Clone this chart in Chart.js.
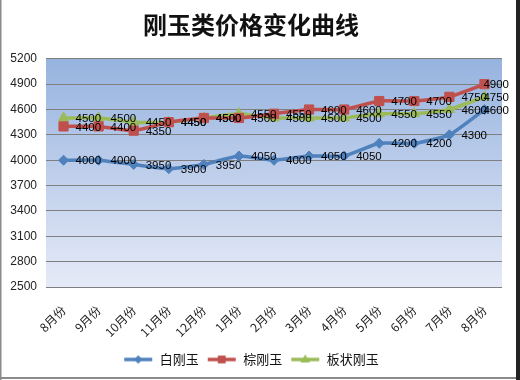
<!DOCTYPE html>
<html><head><meta charset="utf-8">
<script src="https://cdn.jsdelivr.net/npm/chart.js@4/dist/chart.umd.min.js"></script>
<style>html,body{margin:0;padding:0;background:#fff}#wrap{width:520px;height:380px;position:relative}</style>
</head><body><div id="wrap"><canvas id="c" width="520" height="380"></canvas></div>
<script>
const titleText = '刚玉类价格变化曲线';
const categories = ['8月份','9月份','10月份','11月份','12月份','1月份','2月份','3月份','4月份','5月份','6月份','7月份','8月份'];
const seriesNames = ['白刚玉','棕刚玉','板状刚玉'];
const whiteCorundum = [4000,4000,3950,3900,3950,4050,4000,4050,4050,4200,4200,4300,4600];
const brownCorundum = [4400,4400,4350,4450,4500,4500,4550,4600,4600,4700,4700,4750,4900];
const tabularCorundum = [4500,4500,4450,4450,4500,4550,4500,4500,4500,4550,4550,4600,4750];
const yMin = 2500, yMax = 5200, yStep = 300;

const colors = ['#4f81bd','#c0504d','#9bbb59'];
const styles = ['rectRot','rect','triangle'];
const radii = [5,6.5,6];

function drawMarker(ctx, style, x, y, r){
  ctx.beginPath();
  if(style==='rectRot'){ctx.moveTo(x,y-r);ctx.lineTo(x+r,y);ctx.lineTo(x,y+r);ctx.lineTo(x-r,y);}
  else if(style==='rect'){const s=r*Math.SQRT1_2;ctx.rect(x-s,y-s,2*s,2*s);}
  else {ctx.moveTo(x,y-r);ctx.lineTo(x+r*0.95,y+r*0.6);ctx.lineTo(x-r*0.95,y+r*0.6);}
  ctx.closePath();ctx.fill();
}
function legendIcon(i){
  const cv=document.createElement('canvas');cv.width=30;cv.height=12;
  const c=cv.getContext('2d');
  c.strokeStyle=colors[i];c.lineWidth=3.5;c.beginPath();c.moveTo(1,6);c.lineTo(29,6);c.stroke();
  c.fillStyle=colors[i];drawMarker(c,styles[i],15,6,radii[i]*0.85);
  return cv;
}

const plotBg={id:'plotBg',beforeDraw(chart){
  const {ctx,chartArea:a}=chart;const g=ctx.createLinearGradient(0,a.top,0,a.bottom);
  g.addColorStop(0,'#96b3df');g.addColorStop(1,'#e6eaf7');
  ctx.save();ctx.fillStyle=g;ctx.fillRect(a.left,a.top,a.right-a.left,a.bottom-a.top);ctx.restore();
}};
const frame={id:'frame',afterDraw(chart){
  const ctx=chart.ctx;ctx.save();
  ctx.fillStyle='#8a8a8a';ctx.fillRect(0,0,1.5,380);ctx.fillRect(0,377,520,2);
  ctx.fillStyle='#222';ctx.fillRect(516,0,4,380);
  ctx.restore();
}};
const valueLabels={id:'valueLabels',afterDatasetsDraw(chart){
  const ctx=chart.ctx;ctx.save();ctx.font='11.5px "Liberation Sans", Arial, sans-serif';
  ctx.fillStyle='#000';ctx.textAlign='left';ctx.textBaseline='middle';
  const maxRight=chart.chartArea.right+7;
  chart.data.datasets.forEach((ds,i)=>{chart.getDatasetMeta(i).data.forEach((pt,j)=>{
    const t=String(ds.data[j]);const w=ctx.measureText(t).width;
    const x=Math.min(pt.x+12,maxRight-w);
    ctx.fillText(t,x,pt.y+1);});});
  ctx.restore();
}};

const seriesData=[whiteCorundum,brownCorundum,tabularCorundum];
new Chart(document.getElementById('c'),{
  type:'line',
  data:{labels:categories,datasets:seriesData.map((d,i)=>({
    label:seriesNames[i],data:d,borderColor:colors[i],backgroundColor:colors[i],
    borderWidth:3.5,pointStyle:styles[i],pointRadius:radii[i],pointBorderWidth:1,
    pointBackgroundColor:colors[i],pointBorderColor:colors[i],tension:0.15,fill:false
  }))},
  options:{
    responsive:false,animation:false,devicePixelRatio:1,
    layout:{padding:{left:0,right:18,top:0,bottom:4}},
    plugins:{
      title:{display:true,text:titleText,color:'#111',font:{family:'"Noto Sans CJK SC"',size:24,weight:'bold'},padding:{top:10,bottom:20}},
      legend:{position:'bottom',labels:{usePointStyle:true,pointStyleWidth:30,boxHeight:12,padding:8,color:'#111',
        font:{family:'"Noto Sans CJK SC"',size:13},
        generateLabels:(chart)=>chart.data.datasets.map((ds,i)=>({text:ds.label,pointStyle:legendIcon(i),fillStyle:colors[i],strokeStyle:colors[i],lineWidth:0,datasetIndex:i,fontColor:'#111'}))}},
      tooltip:{enabled:false}
    },
    scales:{
      x:{offset:true,grid:{display:false,offset:true},border:{display:false},
        ticks:{minRotation:45,maxRotation:45,color:'#222',padding:8,font:{family:'"Noto Sans CJK SC"',size:12}},
        afterFit:(s)=>{s.height=58;}},
      y:{min:yMin,max:yMax,grid:{color:'#7f7f7f',lineWidth:1,drawTicks:false},border:{display:false},
        ticks:{stepSize:yStep,color:'#222',padding:9,font:{family:'"Liberation Sans"',size:12},callback:(v)=>String(v)},
        afterFit:(s)=>{s.width=46;}}
    }
  },
  plugins:[plotBg,valueLabels,frame]
});
</script></body></html>
